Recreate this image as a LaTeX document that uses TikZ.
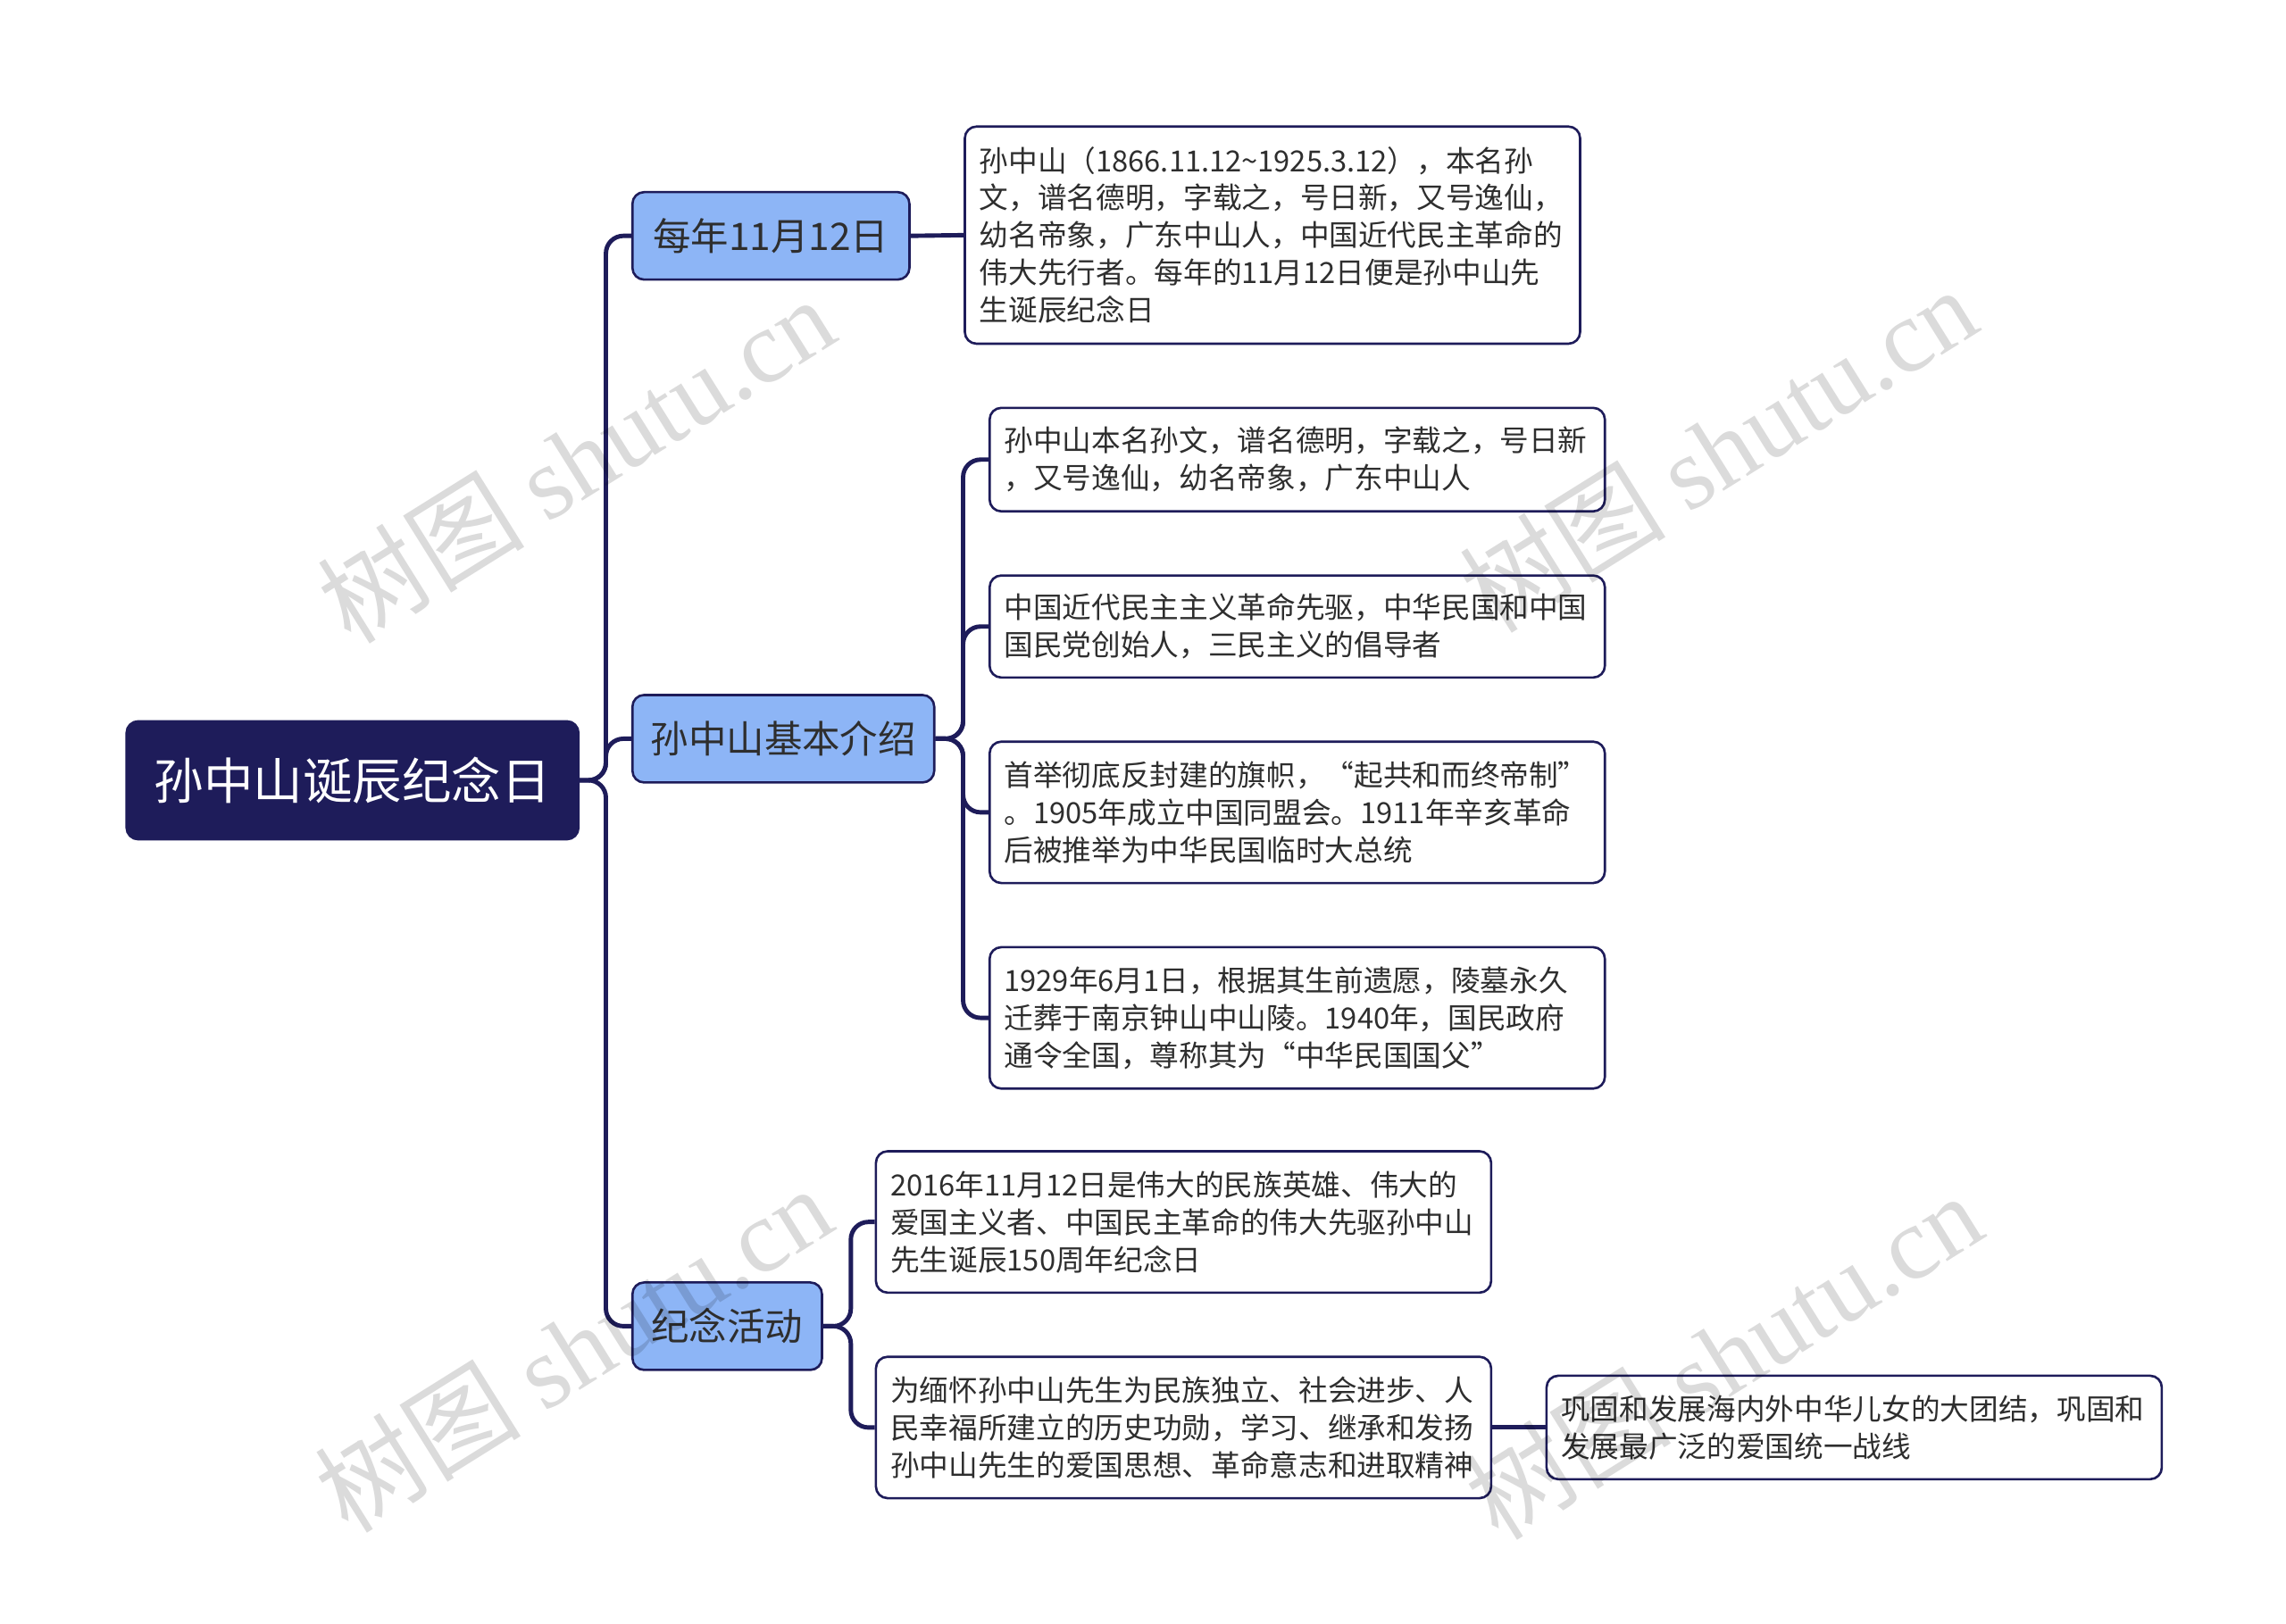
\documentclass[tikz,border=0pt]{standalone}
\usepackage{fontspec}
\setmainfont{Noto Sans CJK SC}
\newfontfamily\wmserif{Liberation Serif}
\definecolor{navy}{HTML}{1E1C5A}
\definecolor{lblue}{HTML}{8DB5F6}
\definecolor{txt}{HTML}{2E2E2E}
\tikzset{
  rootbox/.style={draw=navy, fill=navy, line width=0.8pt, rounded corners=4pt, anchor=north west,
    minimum width=155pt, minimum height=40.5pt, inner sep=0pt, text=white, font=\fontsize{17}{20}\selectfont},
  midbox/.style={draw=navy, fill=lblue, line width=0.8pt, rounded corners=4pt, anchor=north west,
    minimum height=30pt, inner sep=0pt, text=txt, font=\fontsize{13}{16}\selectfont},
  leafbox/.style={draw=navy, fill=white, line width=0.8pt, rounded corners=4pt, anchor=north west,
    align=left, text width=201pt, inner xsep=5pt, inner ysep=0pt, text=txt,
    font=\fontsize{10}{12.85}\selectfont},
  conn/.style={draw=navy, line width=1.5pt, rounded corners=6pt},
  wm/.style={text=black, text opacity=0.14, font=\fontsize{35.5}{38}\selectfont, inner sep=0pt}
}
\begin{document}
\begin{tikzpicture}[x=0.5pt,y=-0.5pt]
\useasboundingbox (0,0) rectangle (1568,1114);
\fill[white] (0,0) rectangle (1568,1114);

\node[rootbox] (root) at (86,494) {孙中山诞辰纪念日};

\node[midbox, minimum width=95pt] (a) at (433,131) {每年11月12日};
\node[midbox, minimum width=103.5pt] (b) at (433,476) {孙中山基本介绍};
\node[midbox, minimum width=65pt] (c) at (433,879) {纪念活动};

\node[leafbox, minimum height=74.5pt] (a1) at (661,86) {孙中山（1866.11.12\textasciitilde1925.3.12），本名孙\\文，谱名德明，字载之，号日新，又号逸仙，\\幼名帝象，广东中山人，中国近代民主革命的\\伟大先行者。每年的11月12日便是孙中山先\\生诞辰纪念日};

\node[leafbox, minimum height=35.5pt] (b1) at (678,279) {孙中山本名孙文，谱名德明，字载之，号日新\\，又号逸仙，幼名帝象，广东中山人};
\node[leafbox, minimum height=35pt] (b2) at (678,394) {中国近代民主主义革命先驱，中华民国和中国\\国民党创始人，三民主义的倡导者};
\node[leafbox, minimum height=48.5pt] (b3) at (678,508) {首举彻底反封建的旗帜，“起共和而终帝制”\\。1905年成立中国同盟会。1911年辛亥革命\\后被推举为中华民国临时大总统};
\node[leafbox, minimum height=48.5pt] (b4) at (678,649) {1929年6月1日，根据其生前遗愿，陵墓永久\\迁葬于南京钟山中山陵。1940年，国民政府\\通令全国，尊称其为“中华民国国父”};

\node[leafbox, minimum height=48.5pt] (c1) at (600,789) {2016年11月12日是伟大的民族英雄、伟大的\\爱国主义者、中国民主革命的伟大先驱孙中山\\先生诞辰150周年纪念日};
\node[leafbox, minimum height=48.5pt] (c2) at (600,930) {为缅怀孙中山先生为民族独立、社会进步、人\\民幸福所建立的历史功勋，学习、继承和发扬\\孙中山先生的爱国思想、革命意志和进取精神};
\node[leafbox, minimum height=35.5pt] (c2a) at (1060,943) {巩固和发展海内外中华儿女的大团结，巩固和\\发展最广泛的爱国统一战线};

\draw[conn] (root.east) -- ++(18,0) |- (a.west);
\draw[conn] (root.east) -- ++(18,0) |- (b.west);
\draw[conn] (root.east) -- ++(18,0) |- (c.west);

\draw[conn] (a.east) -- (a1.west);

\draw[conn] (b.east) -- ++(19,0) |- (b1.west);
\draw[conn] (b.east) -- ++(19,0) |- (b2.west);
\draw[conn] (b.east) -- ++(19,0) |- (b3.west);
\draw[conn] (b.east) -- ++(19,0) |- (b4.west);

\draw[conn] (c.east) -- ++(19,0) |- (c1.west);
\draw[conn] (c.east) -- ++(19,0) |- (c2.west);

\draw[conn] (c2.east) -- (c2a.west);

\node[wm, rotate=32] (wm1) at (395,315) {树图 {\wmserif shutu.cn}};
\node[wm, rotate=32] (wm2) at (1178,308) {树图 {\wmserif shutu.cn}};
\node[wm, rotate=32] (wm3) at (393,925) {树图 {\wmserif shutu.cn}};
\node[wm, rotate=32] (wm4) at (1182,930) {树图 {\wmserif shutu.cn}};
\end{tikzpicture}
\end{document}
